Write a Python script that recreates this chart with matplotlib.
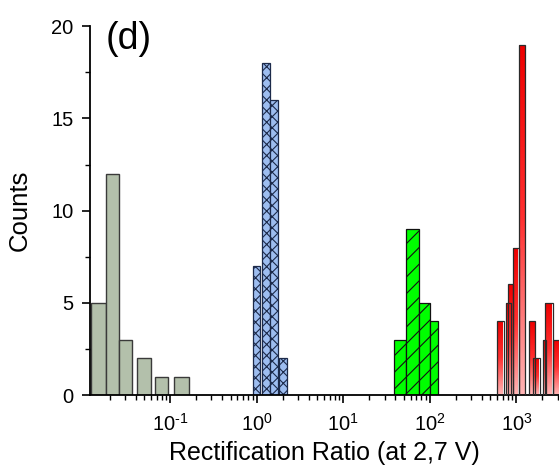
import numpy as np
import matplotlib.pyplot as plt
from matplotlib.ticker import LogLocator, NullFormatter, MultipleLocator, FuncFormatter
from matplotlib.colors import LinearSegmentedColormap

plt.rcParams['font.family'] = ['Liberation Sans', 'DejaVu Sans']
plt.rcParams['mathtext.fontset'] = 'custom'
plt.rcParams['mathtext.rm'] = 'Liberation Sans'
plt.rcParams['hatch.linewidth'] = 0.8

# histogram bins (left edge, right edge) in rectification ratio, and counts
gray_lo = [0.01225, 0.0182, 0.0260, 0.0419, 0.0665, 0.1122]
gray_hi = [0.0181, 0.0260, 0.0367, 0.0598, 0.0955, 0.1644]
gray_n = [5, 12, 3, 2, 1, 1]

blue_lo = [0.90, 1.16, 1.43, 1.80]
blue_hi = [1.09, 1.43, 1.77, 2.23]
blue_n = [7, 18, 16, 2]

green_lo = [38.3, 53.6, 74.5, 101.4]
green_hi = [53.6, 74.5, 101.4, 125.3]
green_n = [3, 9, 5, 4]

red_lo = [601, 759, 800, 920, 1079, 1387, 1567, 2014, 2158, 2667]
red_hi = [719, 860, 920, 1079, 1268, 1652, 1871, 2198, 2624, 3300]
red_n = [4, 5, 6, 8, 19, 4, 2, 3, 5, 3]

fig = plt.figure(figsize=(5.59, 4.67), dpi=100)
ax = fig.add_axes([0.161, 0.154, 0.839, 0.79])
ax.set_xscale('log')

def draw(lo, hi, n, **kw):
    lo, hi = np.array(lo), np.array(hi)
    return ax.bar(lo, n, width=hi - lo, align='edge', **kw)

draw(gray_lo, gray_hi, gray_n, color='#b3c0ab', edgecolor='#3a3a3a', linewidth=1.0)
draw(blue_lo, blue_hi, blue_n, color='#9dbdf0', edgecolor='#1c2a4a', linewidth=0.9, hatch='xxx')
draw(green_lo, green_hi, green_n, color='#00ff00', edgecolor='#111111', linewidth=0.9, hatch='//')

# red bars with a vertical gradient (red on top, pink at the bottom)
grad = np.linspace(0, 1, 100).reshape(-1, 1)
cmap = LinearSegmentedColormap.from_list('rp', ['#ffb4b4', '#ff3030', '#ee0000'])
for lo, hi, n in zip(red_lo, red_hi, red_n):
    b = ax.bar(lo, n, width=hi - lo, align='edge', color='none',
               edgecolor='#2a2a2a', linewidth=0.9, zorder=3)[0]
    im = ax.imshow(grad, extent=[lo, hi, 0, n], origin='lower', cmap=cmap,
                   aspect='auto', zorder=2.5, interpolation='bilinear')
    im.set_clip_path(b)

ax.set_xlim(0.0119, 3105)
ax.set_ylim(0, 20)

def dec_label(v, pos):
    e = int(round(np.log10(v)))
    return r'$10^{%s}$' % (('\u2010%d' % -e) if e < 0 else str(e))

ax.xaxis.set_major_locator(LogLocator(base=10, numticks=10))
ax.xaxis.set_major_formatter(FuncFormatter(dec_label))
ax.xaxis.set_minor_locator(LogLocator(base=10, subs=np.arange(2, 10), numticks=20))
ax.xaxis.set_minor_formatter(NullFormatter())
ax.yaxis.set_major_locator(MultipleLocator(5))
ax.yaxis.set_minor_locator(MultipleLocator(2.5))

ax.tick_params(axis='both', which='major', direction='out', length=6, width=1.2, labelsize=14.5)
ax.tick_params(axis='both', which='minor', direction='out', length=3.5, width=1.0)
ax.tick_params(axis='x', which='major', pad=7)
ax.tick_params(axis='y', which='major', pad=6)

for s in ['top', 'right']:
    ax.spines[s].set_visible(False)
for s in ['left', 'bottom']:
    ax.spines[s].set_linewidth(1.3)

ax.set_xlabel('Rectification Ratio (at 2,7 V)', fontsize=18, labelpad=4)
ax.set_ylabel('Counts', fontsize=18.5, labelpad=14)
ax.text(0.082, 0.965, '(d)', transform=ax.transAxes, fontsize=27, ha='center', va='center')

fig.savefig('out.png', dpi=100)
